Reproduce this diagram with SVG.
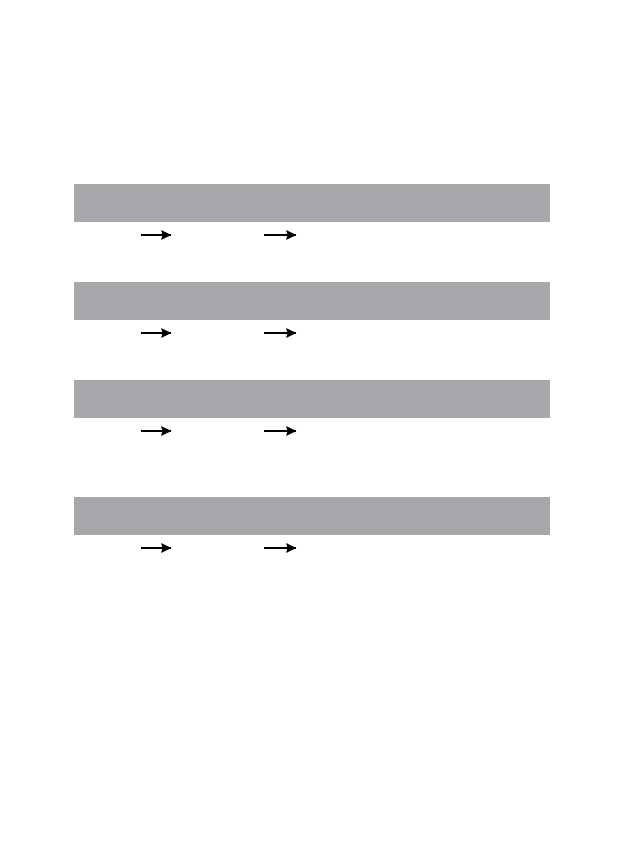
<svg xmlns="http://www.w3.org/2000/svg" width="624" height="850" viewBox="0 0 624 850">
<style>
.bar{fill:#a7a8ab}
.arr{stroke:#000;stroke-width:2;fill:none}
</style>
<defs>
<marker id="ah" markerWidth="11" markerHeight="10" refX="10" refY="5" orient="auto" markerUnits="userSpaceOnUse">
<path d="M0,0 L10.5,5 L0,10 L1.5,5 Z" fill="#000"/>
</marker>
</defs>
<rect width="624" height="850" fill="#fff"/>
<g id="bar1"><rect class="bar" x="74" y="184" width="476" height="38"/></g>
<g id="bar2"><rect class="bar" x="74" y="282" width="476" height="38"/></g>
<g id="bar3"><rect class="bar" x="74" y="380" width="476" height="38"/></g>
<g id="bar4"><rect class="bar" x="74" y="497" width="476" height="38"/></g>
<g id="connectors">
<line class="arr" x1="141" y1="235" x2="171" y2="235" marker-end="url(#ah)"/>
<line class="arr" x1="264" y1="235" x2="296" y2="235" marker-end="url(#ah)"/>
<line class="arr" x1="141" y1="333" x2="171" y2="333" marker-end="url(#ah)"/>
<line class="arr" x1="264" y1="333" x2="296" y2="333" marker-end="url(#ah)"/>
<line class="arr" x1="141" y1="431" x2="171" y2="431" marker-end="url(#ah)"/>
<line class="arr" x1="264" y1="431" x2="296" y2="431" marker-end="url(#ah)"/>
<line class="arr" x1="141" y1="548" x2="171" y2="548" marker-end="url(#ah)"/>
<line class="arr" x1="264" y1="548" x2="296" y2="548" marker-end="url(#ah)"/>
</g>
</svg>
